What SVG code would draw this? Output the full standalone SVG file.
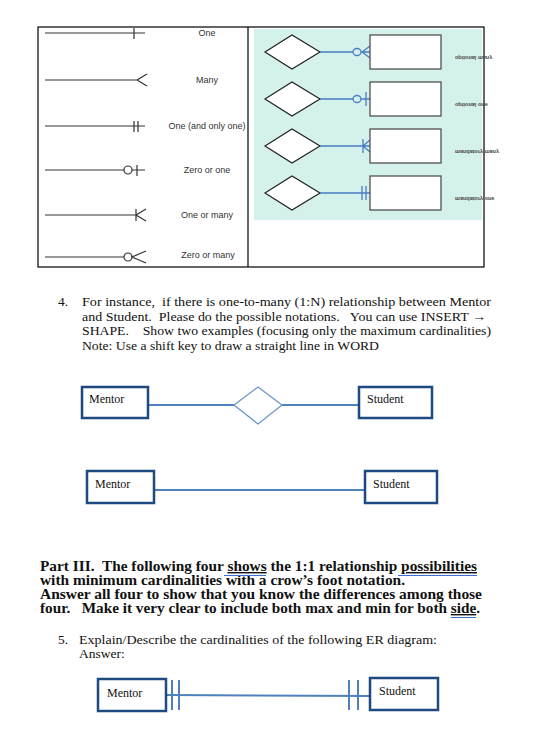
<svg xmlns="http://www.w3.org/2000/svg" width="542" height="729" viewBox="0 0 542 729">
<style>
text{white-space:pre}
.sym{stroke:#333;stroke-width:1.2;fill:none}
.lbl{font-family:"Liberation Sans",Arial,sans-serif;font-size:9px;fill:#333;text-anchor:middle}
.dia{fill:#fff;stroke:#222;stroke-width:1.2}
.ent{fill:#fff;stroke:#444;stroke-width:1.2}
.bl{stroke:#4a7cc4;stroke-width:1.3;fill:none}
.mir{font-family:"Liberation Sans",Arial,sans-serif;font-size:5.5px;font-weight:bold;fill:#444}
.body{font-family:"Liberation Serif","Times New Roman",serif;font-size:13.5px;fill:#111}
.bold{font-family:"Liberation Serif","Times New Roman",serif;font-size:14px;font-weight:bold;fill:#111}
.box{fill:#fff;stroke:#1f4a80;stroke-width:2.5}
.conn{stroke:#4f81bd;stroke-width:2;fill:none}
.bt{font-family:"Liberation Serif","Times New Roman",serif;font-size:12px;fill:#111}
</style>
<g id="legend-table">
<rect x="38" y="27" width="446" height="240" fill="#fff" stroke="#000" stroke-width="1.2"/>
<line x1="248" y1="27" x2="248" y2="267" stroke="#000" stroke-width="1.2"/>
</g>
<g id="legend-left">
<g id="row-one"><path class="sym" d="M45 33H145M134 28V39"/><text class="lbl" x="207" y="36">One</text></g>
<g id="row-many"><path class="sym" d="M45 80H137M147 74L137 80L147 86"/><text class="lbl" x="207" y="83">Many</text></g>
<g id="row-oneonly"><path class="sym" d="M45 126H145M134 121V132M138 121V132"/><text class="lbl" x="207" y="129">One (and only one)</text></g>
<g id="row-zeroone"><path class="sym" d="M45 170H124M132 170H145M137 165V176"/><circle class="sym" cx="128" cy="170" r="4"/><text class="lbl" x="207" y="173">Zero or one</text></g>
<g id="row-onemany"><path class="sym" d="M45 215H136M136 209V221M146 209L136 215L146 221"/><text class="lbl" x="207" y="218">One or many</text></g>
<g id="row-zeromany"><path class="sym" d="M45 257H124M146 251L132 257L146 263"/><circle class="sym" cx="128" cy="257" r="4"/><text class="lbl" x="208" y="258">Zero or many</text></g>
</g>
<g id="legend-right">
<rect x="254" y="29" width="228" height="191" fill="#d5f1eb"/>
<g id="r1">
<polygon class="dia" points="265,52 292,35 320,52 292,69"/>
<path class="bl" d="M320 52H353M361 52H370M362 52L370 46M362 52L370 58"/>
<ellipse class="bl" cx="357" cy="52" rx="4" ry="3.5"/>
<rect class="ent" x="370" y="35" width="71" height="34"/>
<text class="mir" transform="translate(455,56) scale(1,-1)">optional many</text>
</g>
<g id="r2">
<polygon class="dia" points="265,99 292,82 320,99 292,116"/>
<path class="bl" d="M320 99H353M361 99H370M366 92V106"/>
<ellipse class="bl" cx="357" cy="99" rx="4" ry="3.5"/>
<rect class="ent" x="370" y="82" width="71" height="34"/>
<text class="mir" transform="translate(455,103) scale(1,-1)">optional one</text>
</g>
<g id="r3">
<polygon class="dia" points="265,146 292,129 320,146 292,163"/>
<path class="bl" d="M320 146H370M363 139V153M363 146L370 140M363 146L370 152"/>
<rect class="ent" x="370" y="129" width="71" height="34"/>
<text class="mir" transform="translate(455,150) scale(1,-1)">mandatory many</text>
</g>
<g id="r4">
<polygon class="dia" points="265,193 292,176 320,193 292,210"/>
<path class="bl" d="M320 193H370M362 186V200M366 186V200"/>
<rect class="ent" x="370" y="176" width="71" height="34"/>
<text class="mir" transform="translate(455,197) scale(1,-1)">mandatory one</text>
</g>
</g>
<g id="q4-text">
<text class="body" x="58" y="306">4.</text>
<text class="body" x="82" y="306" textLength="409" lengthAdjust="spacingAndGlyphs">For instance,  if there is one-to-many (1:N) relationship between Mentor</text>
<text class="body" x="82" y="320.5" textLength="404" lengthAdjust="spacingAndGlyphs">and Student.  Please do the possible notations.   You can use INSERT →</text>
<text class="body" x="82" y="335" textLength="409" lengthAdjust="spacingAndGlyphs">SHAPE.    Show two examples (focusing only the maximum cardinalities)</text>
<text class="body" x="82" y="349.5" textLength="297" lengthAdjust="spacingAndGlyphs">Note: Use a shift key to draw a straight line in WORD</text>
</g>
<g id="connectors">
<path class="conn" d="M148 405H234M282 405H359"/>
<path class="conn" d="M154 490H365"/>
<path class="conn" d="M166 695L370 696"/>
<path class="conn" d="M172 680V710M179 680V710M349 680V710M358 680V710"/>
</g>
<g id="ex1-relationship"><polygon points="234,405 258,387 282,405 258,424" fill="#fff" stroke="#6c96cc" stroke-width="1.3"/></g>
<g id="ex1-mentor"><rect class="box" x="82" y="387" width="66" height="31"/><text class="bt" x="89" y="403">Mentor</text></g>
<g id="ex1-student"><rect class="box" x="359" y="387" width="73" height="31"/><text class="bt" x="367" y="403">Student</text></g>
<g id="ex2-mentor"><rect class="box" x="87" y="471" width="67" height="32"/><text class="bt" x="95" y="488">Mentor</text></g>
<g id="ex2-student"><rect class="box" x="365" y="471" width="72" height="32"/><text class="bt" x="373" y="488">Student</text></g>
<g id="part3-text">
<text class="bold" x="40" y="571" textLength="437" lengthAdjust="spacingAndGlyphs">Part III.  The following four <tspan text-decoration="underline">shows</tspan> the 1:1 relationship <tspan text-decoration="underline">possibilities</tspan></text>
<text class="bold" x="40" y="585" textLength="365" lengthAdjust="spacingAndGlyphs">with minimum cardinalities with a crow’s foot notation.</text>
<text class="bold" x="40" y="599" textLength="442" lengthAdjust="spacingAndGlyphs">Answer all four to show that you know the differences among those</text>
<text class="bold" x="40" y="613" textLength="440" lengthAdjust="spacingAndGlyphs">four.   Make it very clear to include both max and min for both <tspan text-decoration="underline">side</tspan>.</text>
<path d="M224 575.5H266M398 575.5H477M451 617.5H476" stroke="#3a6fd8" stroke-width="1"/>
</g>
<g id="q5-text">
<text class="body" x="58" y="644">5.</text>
<text class="body" x="79" y="644" textLength="358" lengthAdjust="spacingAndGlyphs">Explain/Describe the cardinalities of the following ER diagram:</text>
<text class="body" x="79" y="658">Answer:</text>
</g>
<g id="ex3-mentor"><rect class="box" x="98" y="679" width="68" height="32"/><text class="bt" x="107" y="697">Mentor</text></g>
<g id="ex3-student"><rect class="box" x="370" y="678" width="68" height="32"/><text class="bt" x="379" y="695">Student</text></g>
</svg>
